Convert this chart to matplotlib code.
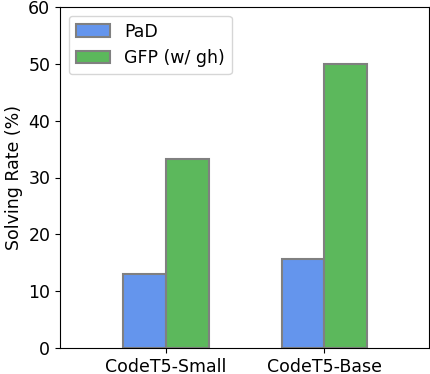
import numpy as np
import matplotlib.pyplot as plt

models = ['CodeT5-Small', 'CodeT5-Base']
pad = [13.0, 15.7]
gfp = [33.3, 50.0]

fig = plt.figure(figsize=(4.3, 3.74), dpi=100)
ax = fig.add_axes([60 / 430, 26 / 374, 369 / 430, 341 / 374])

x = np.arange(len(models))
w = 0.27
ax.bar(x - w / 2, pad, w, color='cornflowerblue', edgecolor='gray', linewidth=1.5, label='PaD')
ax.bar(x + w / 2, gfp, w, color='#5cb85c', edgecolor='gray', linewidth=1.5, label='GFP (w/ gh)')

fs = 12.5
ax.set_xlim(-0.67, 1.66)
ax.set_ylim(0, 60)
ax.set_xticks(x)
ax.set_xticklabels(models, fontsize=fs)
ax.tick_params(axis='y', labelsize=fs)
ax.set_ylabel('Solving Rate (%)', fontsize=fs)
ax.legend(loc='upper left', fontsize=fs)

fig.savefig('out.png', dpi=100)
